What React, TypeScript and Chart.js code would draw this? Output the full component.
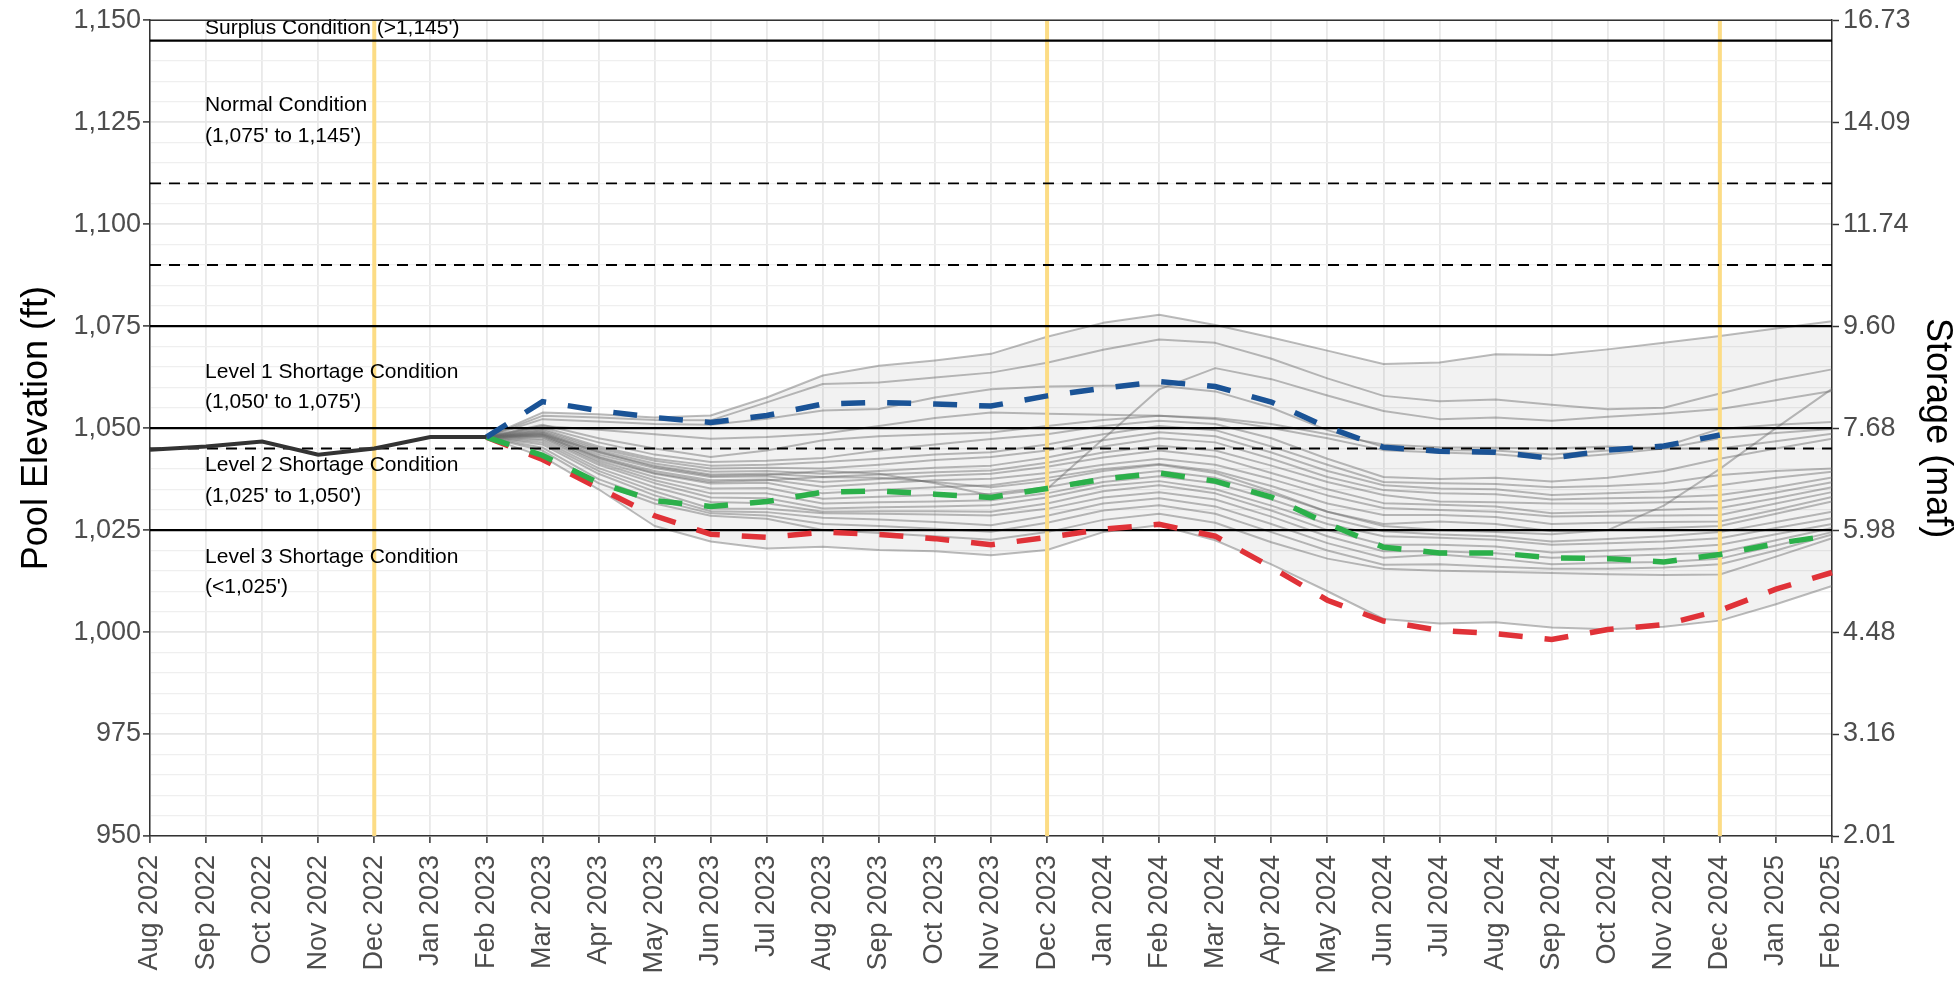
import React, { useEffect, useRef } from 'react';
import { Chart, registerables } from 'chart.js';

Chart.register(...registerables);

const FONT = "'Liberation Sans', Arial, Helvetica, sans-serif";

const months = [
  'Aug 2022', 'Sep 2022', 'Oct 2022', 'Nov 2022', 'Dec 2022',
  'Jan 2023', 'Feb 2023', 'Mar 2023', 'Apr 2023', 'May 2023', 'Jun 2023', 'Jul 2023',
  'Aug 2023', 'Sep 2023', 'Oct 2023', 'Nov 2023', 'Dec 2023',
  'Jan 2024', 'Feb 2024', 'Mar 2024', 'Apr 2024', 'May 2024', 'Jun 2024', 'Jul 2024',
  'Aug 2024', 'Sep 2024', 'Oct 2024', 'Nov 2024', 'Dec 2024',
  'Jan 2025', 'Feb 2025',
];

const storageLabels = ['2.01', '3.16', '4.48', '5.98', '7.68', '9.60', '11.74', '14.09', '16.73'];

// Historical elevations Aug 2022 - Feb 2023
const historical = [1044.7, 1045.5, 1046.7, 1043.5, 1045.0, 1047.8, 1047.8];

// Projections start Feb 2023
const projectionStartMonth = 'Feb 2023';
const maxProbable = [1047.8, 1056.5, 1054.3, 1052.6, 1051.4, 1053.1, 1055.9, 1056.3, 1055.9, 1055.4, 1057.9, 1059.8, 1061.4, 1060.2, 1056.4, 1050.2, 1045.3, 1044.3, 1044.1, 1042.6, 1044.6, 1045.6, 1048.3];
const mostProbable = [1047.8, 1043.3, 1036.6, 1032.2, 1030.8, 1032.0, 1034.3, 1034.6, 1033.8, 1033.0, 1035.2, 1037.5, 1039.0, 1037.0, 1033.1, 1026.6, 1020.8, 1019.4, 1019.4, 1018.2, 1018.0, 1017.2, 1019.0, 1021.7, 1023.7];
const minProbable = [1047.8, 1042.3, 1035.3, 1028.5, 1024.0, 1023.2, 1024.5, 1023.9, 1022.9, 1021.4, 1023.2, 1025.2, 1026.4, 1023.5, 1015.9, 1007.8, 1002.7, 1000.4, 999.6, 998.2, 1000.6, 1001.8, 1005.3, 1010.5, 1014.6];

// Ensemble traces (Feb 2023 - Feb 2025)
const traceA = [1047.8, 1053.8, 1053.4, 1052.6, 1053.1, 1057.5, 1062.9, 1065.3, 1066.6, 1068.2, 1072.4, 1075.8, 1077.8, 1075.3, 1072.2, 1069.0, 1065.7, 1066.1, 1068.1, 1067.9, 1069.3, 1070.9, 1072.6, 1074.4, 1076.2];
const traceB = [1047.8, 1053.0, 1052.6, 1052.0, 1051.9, 1056.3, 1060.8, 1061.2, 1062.4, 1063.6, 1066.0, 1069.2, 1071.7, 1070.9, 1067.0, 1062.2, 1057.9, 1056.6, 1057.0, 1055.7, 1054.6, 1055.0, 1058.5, 1061.8, 1064.4];
const traceC = [1047.8, 1052.2, 1051.6, 1051.0, 1050.8, 1052.3, 1054.3, 1054.7, 1057.5, 1059.5, 1060.2, 1060.4, 1060.4, 1059.0, 1055.0, 1049.5, 1045.4, 1044.6, 1044.5, 1043.5, 1044.5, 1045.5, 1049.8, 1050.8, 1051.5];
const traceD = [1047.8, 1050.5, 1049.6, 1048.5, 1047.4, 1047.8, 1048.6, 1050.5, 1052.5, 1053.8, 1053.5, 1053.3, 1053.0, 1052.2, 1050.0, 1047.5, 1044.6, 1044.0, 1043.6, 1042.5, 1043.6, 1045.0, 1047.5, 1048.8, 1049.8];
const traceE = [1047.8, 1048.5, 1044.2, 1040.5, 1038.3, 1038.5, 1039.5, 1038.8, 1036.5, 1033.5, 1035.1, 1047.3, 1059.5, 1064.7, 1062.0, 1058.0, 1054.2, 1052.2, 1052.6, 1051.8, 1052.8, 1053.6, 1054.7, 1056.8, 1059.1];
const traceF = [1047.8, 1048.2, 1042.8, 1039.0, 1036.8, 1037.2, 1038.0, 1037.8, 1036.8, 1035.5, 1037.0, 1039.5, 1041.0, 1039.0, 1034.5, 1029.5, 1026.0, 1025.0, 1024.5, 1024.0, 1025.0, 1031.0, 1040.0, 1050.0, 1059.6];
const traceG = [1047.8, 1050.8, 1047.5, 1045.0, 1042.9, 1044.5, 1047.0, 1048.0, 1048.5, 1048.9, 1050.5, 1052.0, 1053.0, 1052.5, 1051.0, 1048.5, 1046.0, 1045.3, 1045.2, 1045.0, 1045.5, 1045.0, 1045.0, 1046.8, 1048.6];
const traceH = [1047.8, 1050.2, 1046.5, 1043.5, 1041.7, 1042.0, 1042.7, 1044.5, 1046.0, 1047.3, 1048.5, 1050.5, 1051.8, 1051.0, 1047.5, 1042.5, 1038.0, 1037.5, 1037.8, 1036.9, 1037.8, 1039.5, 1042.5, 1045.0, 1047.4];
const traceI = [1047.8, 1049.8, 1045.5, 1042.5, 1040.8, 1041.0, 1041.7, 1042.5, 1043.5, 1044.1, 1046.0, 1048.5, 1050.5, 1049.5, 1045.5, 1041.0, 1036.8, 1036.5, 1036.3, 1035.5, 1035.8, 1036.5, 1038.5, 1039.5, 1040.1];
const traceJ = [1047.8, 1049.5, 1045.0, 1042.0, 1040.1, 1040.3, 1040.1, 1041.0, 1042.2, 1042.9, 1044.5, 1047.0, 1049.0, 1048.0, 1044.0, 1039.5, 1036.0, 1035.2, 1035.0, 1033.6, 1034.0, 1034.5, 1036.0, 1037.8, 1039.3];
const traceK = [1047.8, 1049.2, 1044.5, 1041.3, 1039.3, 1039.5, 1038.8, 1039.5, 1040.3, 1040.8, 1042.8, 1045.5, 1047.5, 1046.5, 1042.5, 1038.0, 1034.8, 1034.0, 1033.8, 1032.5, 1032.8, 1033.0, 1033.6, 1035.5, 1037.9];
const traceL = [1047.8, 1049.0, 1044.0, 1040.8, 1038.6, 1038.8, 1038.0, 1038.6, 1039.2, 1039.6, 1041.5, 1044.0, 1045.7, 1044.5, 1040.8, 1036.8, 1033.6, 1032.0, 1031.8, 1031.5, 1031.5, 1031.8, 1032.0, 1034.2, 1036.7];
const traceM = [1047.8, 1048.8, 1043.5, 1040.2, 1038.0, 1038.2, 1036.8, 1037.5, 1038.3, 1038.8, 1040.5, 1042.8, 1044.5, 1043.0, 1039.0, 1035.0, 1031.6, 1031.2, 1030.8, 1029.1, 1029.5, 1030.0, 1030.4, 1032.8, 1035.5];
const traceN = [1047.8, 1048.6, 1043.0, 1039.5, 1037.2, 1037.4, 1035.6, 1036.5, 1037.2, 1037.6, 1039.0, 1041.0, 1042.5, 1041.0, 1037.5, 1033.5, 1030.4, 1029.9, 1029.5, 1028.3, 1028.5, 1028.6, 1028.7, 1031.5, 1034.3];
const traceO = [1047.8, 1048.3, 1042.5, 1038.8, 1036.4, 1036.6, 1034.0, 1034.8, 1035.5, 1036.0, 1037.8, 1040.0, 1041.2, 1039.5, 1035.8, 1031.5, 1028.7, 1028.7, 1028.2, 1026.5, 1026.8, 1027.0, 1027.1, 1030.0, 1033.1];
const traceP = [1047.8, 1048.0, 1042.0, 1038.0, 1035.2, 1035.3, 1032.7, 1033.2, 1033.6, 1033.9, 1035.5, 1038.0, 1039.5, 1037.8, 1034.0, 1029.5, 1026.5, 1027.1, 1026.5, 1024.7, 1025.0, 1025.5, 1026.0, 1029.0, 1032.0];
const traceQ = [1047.8, 1047.8, 1041.5, 1037.2, 1034.0, 1034.0, 1031.5, 1031.8, 1032.0, 1032.3, 1034.0, 1036.8, 1038.2, 1036.5, 1032.5, 1028.0, 1024.7, 1023.9, 1023.5, 1022.2, 1022.8, 1023.5, 1024.5, 1027.0, 1029.5];
const traceR = [1047.8, 1047.4, 1041.0, 1036.5, 1033.0, 1032.8, 1030.3, 1030.6, 1030.8, 1031.1, 1033.0, 1035.8, 1037.0, 1035.0, 1031.0, 1026.5, 1023.5, 1023.1, 1022.6, 1021.4, 1021.8, 1022.2, 1023.0, 1025.5, 1027.9];
const traceS = [1047.8, 1047.0, 1040.2, 1035.5, 1031.9, 1031.6, 1029.5, 1029.6, 1029.6, 1029.5, 1031.5, 1034.5, 1036.0, 1034.0, 1029.8, 1025.0, 1021.4, 1021.4, 1021.0, 1019.5, 1020.0, 1020.5, 1021.4, 1024.0, 1026.5];
const traceT = [1047.8, 1046.5, 1039.5, 1034.5, 1030.3, 1030.2, 1029.1, 1029.0, 1028.8, 1028.6, 1030.2, 1033.0, 1034.3, 1032.5, 1028.3, 1023.5, 1019.8, 1019.8, 1019.3, 1018.2, 1018.6, 1019.0, 1019.5, 1022.5, 1025.5];
const traceU = [1047.8, 1046.0, 1038.8, 1033.5, 1029.6, 1029.4, 1028.0, 1027.6, 1027.0, 1026.2, 1028.5, 1031.5, 1032.8, 1030.8, 1026.5, 1021.8, 1018.2, 1019.0, 1018.0, 1016.6, 1017.0, 1017.2, 1018.0, 1021.2, 1024.5];
const traceV = [1047.8, 1045.2, 1037.5, 1032.5, 1029.1, 1028.6, 1026.5, 1026.0, 1025.3, 1024.6, 1026.8, 1029.8, 1031.1, 1029.0, 1024.5, 1020.0, 1016.5, 1016.6, 1016.0, 1015.5, 1015.5, 1015.8, 1016.6, 1020.0, 1023.9];
const traceW = [1047.8, 1044.5, 1036.5, 1031.5, 1028.5, 1027.8, 1025.0, 1024.3, 1023.5, 1022.6, 1024.5, 1027.5, 1029.0, 1026.8, 1022.0, 1018.0, 1015.5, 1015.0, 1014.8, 1014.5, 1014.2, 1014.0, 1014.1, 1018.5, 1023.0];
const traceX = [1047.8, 1043.0, 1035.0, 1026.0, 1022.2, 1020.5, 1020.9, 1020.1, 1019.8, 1018.8, 1020.1, 1024.5, 1026.2, 1022.5, 1016.6, 1010.0, 1003.2, 1002.1, 1002.4, 1001.1, 1000.7, 1001.3, 1002.8, 1006.8, 1011.3];

// first = upper envelope, last = lower envelope
const ensemble = [traceA, traceB, traceC, traceD, traceE, traceF, traceG, traceH, traceI, traceJ, traceK, traceL, traceM, traceN, traceO, traceP, traceQ, traceR, traceS, traceT, traceU, traceV, traceW, traceX];

const solidLevels = [1145, 1075, 1050, 1025];
const dashedLevels = [1110, 1090, 1045];
const decemberMarkers = ['Dec 2022', 'Dec 2023', 'Dec 2024'];
const labelMonth = 'Sep 2022';
const conditionTexts = [
  "Surplus Condition (>1,145')",
  'Normal Condition',
  "(1,075' to 1,145')",
  'Level 1 Shortage Condition',
  "(1,050' to 1,075')",
  'Level 2 Shortage Condition',
  "(1,025' to 1,050')",
  'Level 3 Shortage Condition',
  "(<1,025')",
];
const conditionElevations = [1148.0, 1129.2, 1121.5, 1063.8, 1056.4, 1041.0, 1033.4, 1018.4, 1011.1];

function pad(vals: number[], start: number): (number | null)[] {
  return months.map((_, i) => (i >= start && i - start < vals.length ? vals[i - start] : null));
}

const isMajor = (v: any) => typeof v === 'number' && Math.abs(Math.round(v) % 25) === 0 && Math.abs(v - Math.round(v)) < 1e-6;

const RED_INDEX = 3;

const overlayPlugin = {
  id: 'overlay',
  beforeDatasetDraw(chart: any, args: any) {
    if (args.index !== RED_INDEX) return;
    const { ctx, chartArea: a, scales } = chart;
    const x = scales.x;
    const y = scales.y;
    ctx.save();
    ctx.beginPath();
    ctx.rect(a.left, a.top, a.right - a.left, a.bottom - a.top);
    ctx.clip();
    ctx.strokeStyle = '#fcdc85';
    ctx.lineWidth = 4;
    ctx.setLineDash([]);
    decemberMarkers.forEach((m) => {
      const px = x.getPixelForValue(months.indexOf(m));
      ctx.beginPath();
      ctx.moveTo(px, a.top);
      ctx.lineTo(px, a.bottom);
      ctx.stroke();
    });
    ctx.strokeStyle = '#000000';
    ctx.lineWidth = 2.2;
    solidLevels.forEach((v) => {
      const py = y.getPixelForValue(v);
      ctx.beginPath();
      ctx.moveTo(a.left, py);
      ctx.lineTo(a.right, py);
      ctx.stroke();
    });
    ctx.lineWidth = 1.9;
    ctx.setLineDash([11, 8]);
    dashedLevels.forEach((v) => {
      const py = y.getPixelForValue(v);
      ctx.beginPath();
      ctx.moveTo(a.left, py);
      ctx.lineTo(a.right, py);
      ctx.stroke();
    });
    ctx.restore();
  },
  afterDatasetsDraw(chart: any) {
    const { ctx, chartArea: a, scales } = chart;
    const x = scales.x;
    const y = scales.y;
    ctx.save();
    ctx.fillStyle = '#000000';
    ctx.font = `21px ${FONT}`;
    ctx.textAlign = 'left';
    ctx.textBaseline = 'middle';
    const px = x.getPixelForValue(months.indexOf(labelMonth)) - 1;
    conditionTexts.forEach((t, i) => {
      ctx.fillText(t, px, y.getPixelForValue(conditionElevations[i]));
    });
    ctx.strokeStyle = '#333333';
    ctx.lineWidth = 1.5;
    ctx.beginPath();
    ctx.moveTo(a.left, a.top);
    ctx.lineTo(a.right, a.top);
    ctx.stroke();
    ctx.restore();
  },
};

export default function App() {
  const canvasRef = useRef<HTMLCanvasElement | null>(null);

  useEffect(() => {
    document.body.style.margin = '0';
    const canvas = canvasRef.current;
    if (!canvas) return;
    const start = months.indexOf(projectionStartMonth);
    const lowerIndex = 4 + ensemble.length - 1;

    const dashed = {
      borderWidth: 5.5,
      borderDash: [24, 22],
      borderCapStyle: 'butt',
      fill: false,
    };

    const datasets: any[] = [
      {
        label: 'Historical',
        data: pad(historical, 0),
        borderColor: '#333333',
        borderWidth: 4,
        fill: false,
      },
      { label: 'Max Probable', data: pad(maxProbable, start), borderColor: '#1a5396', ...dashed },
      { label: 'Most Probable', data: pad(mostProbable, start), borderColor: '#2bb04a', ...dashed },
      { label: 'Min Probable', data: pad(minProbable, start), borderColor: '#e03238', ...dashed },
      ...ensemble.map((t, i) => ({
        label: `Trace ${i + 1}`,
        data: pad(t, start),
        borderColor: 'rgba(105,105,105,0.45)',
        borderWidth: 2,
        borderJoinStyle: 'round',
        fill: i === 0 ? lowerIndex : false,
        backgroundColor: 'rgba(0,0,0,0.05)',
      })),
    ];

    const tickFont = { family: FONT, size: 27 };

    const chart = new Chart(canvas, {
      type: 'line',
      data: { labels: months, datasets },
      options: {
        animation: false,
        responsive: false,
        maintainAspectRatio: false,
        devicePixelRatio: 1,
        events: [],
        layout: { padding: { top: 19, left: 0, right: 0, bottom: 0 } },
        elements: {
          point: { radius: 0 },
          line: { tension: 0 },
        },
        plugins: {
          legend: { display: false },
          tooltip: { enabled: false },
          filler: { drawTime: 'beforeDatasetsDraw', propagate: false } as any,
        },
        scales: {
          x: {
            type: 'category',
            offset: false,
            grid: {
              color: '#e9e9e9',
              lineWidth: 1.8,
              tickColor: '#333333',
              tickLength: 7,
              tickWidth: 1.5,
            },
            border: { color: '#333333', width: 1.5 },
            ticks: {
              autoSkip: false,
              minRotation: 90,
              maxRotation: 90,
              font: tickFont,
              color: '#4d4d4d',
              padding: 12,
            },
            afterFit: (s: any) => {
              s.height = 145;
            },
          },
          y: {
            type: 'linear',
            position: 'left',
            min: 950,
            max: 1150,
            ticks: {
              stepSize: 5,
              autoSkip: false,
              font: tickFont,
              color: '#4d4d4d',
              padding: 2,
              callback: (v: any) => (isMajor(v) ? Number(v).toLocaleString('en-US') : ''),
            },
            grid: {
              color: (c: any) => (isMajor(c.tick?.value) ? '#e6e6e6' : '#efefef'),
              lineWidth: (c: any) => (isMajor(c.tick?.value) ? 1.8 : 1.2),
              tickColor: (c: any) => (isMajor(c.tick?.value) ? '#333333' : 'rgba(0,0,0,0)'),
              tickLength: 7,
              tickWidth: 1.5,
            },
            border: { color: '#333333', width: 1.5 },
            title: {
              display: true,
              text: 'Pool Elevation (ft)',
              color: '#000000',
              font: { family: FONT, size: 36 },
              padding: { top: 15, bottom: 0 },
            },
            afterFit: (s: any) => {
              s.width = 150;
            },
          },
          y2: {
            type: 'linear',
            position: 'right',
            min: 950,
            max: 1150,
            ticks: {
              stepSize: 25,
              autoSkip: false,
              font: tickFont,
              color: '#4d4d4d',
              padding: 4,
              callback: (v: any) => storageLabels[Math.round((Number(v) - 950) / 25)] ?? '',
            },
            grid: {
              drawOnChartArea: false,
              tickColor: '#333333',
              tickLength: 7,
              tickWidth: 1.5,
            },
            border: { color: '#333333', width: 1.5 },
            title: {
              display: true,
              text: 'Storage (maf)',
              color: '#000000',
              font: { family: FONT, size: 36 },
              padding: { top: 0, bottom: 0 },
            },
            afterFit: (s: any) => {
              s.width = 127;
            },
          },
        },
      } as any,
      plugins: [overlayPlugin],
    });

    return () => chart.destroy();
  }, []);

  return (
    <div style={{ width: 1959, height: 981, position: 'relative' }}>
      <canvas ref={canvasRef} width={1959} height={981} style={{ display: 'block' }} />
    </div>
  );
}
